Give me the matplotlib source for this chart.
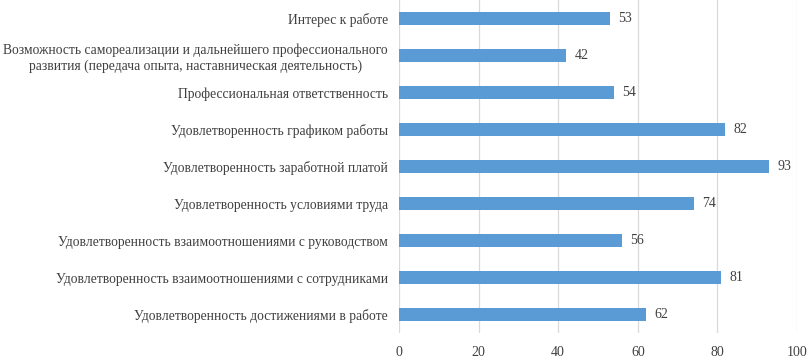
import matplotlib.pyplot as plt

plt.rcParams['font.family'] = ['Liberation Serif', 'DejaVu Serif']

categories = [
    'Интерес к работе',
    'Возможность самореализации и дальнейшего профессионального\nразвития (передача опыта, наставническая деятельность)',
    'Профессиональная ответственность',
    'Удовлетворенность графиком работы',
    'Удовлетворенность заработной платой',
    'Удовлетворенность условиями труда',
    'Удовлетворенность взаимоотношениями с руководством',
    'Удовлетворенность взаимоотношениями с сотрудниками',
    'Удовлетворенность достижениями в работе',
]
values = [53, 42, 54, 82, 93, 74, 56, 81, 62]
xticks = [0, 20, 40, 60, 80, 100]

text_col = '#404040'
bar_col = '#5b9bd5'

fig = plt.figure(figsize=(8.07, 3.59), dpi=100)
ax = fig.add_axes([0.4944, 0.0724, 0.4932, 0.9276])

y = list(range(len(categories)))
bars = ax.barh(y, values, height=0.35, color=bar_col, zorder=3)
for b, v in zip(bars, values):
    ax.annotate(str(v), (b.get_width(), b.get_y() + b.get_height() / 2),
                xytext=(6, 0), textcoords='offset points', va='center', ha='left',
                fontsize=10, color=text_col)

ax.set_ylim(len(categories) - 0.5, -0.5)
ax.set_xlim(0, 100)
ax.set_xticks(xticks)
ax.set_yticks(y)
ax.set_yticklabels(categories, fontsize=9.8, color=text_col, ha='right', multialignment='center')
ax.tick_params(axis='y', length=0, pad=8)
ax.tick_params(axis='x', length=0, pad=9, labelsize=10, labelcolor=text_col)
ax.xaxis.grid(True, color='#d9d9d9', linewidth=0.9, zorder=0)
for s in ax.spines.values():
    s.set_visible(False)

fig.savefig('out.png', dpi=100)
